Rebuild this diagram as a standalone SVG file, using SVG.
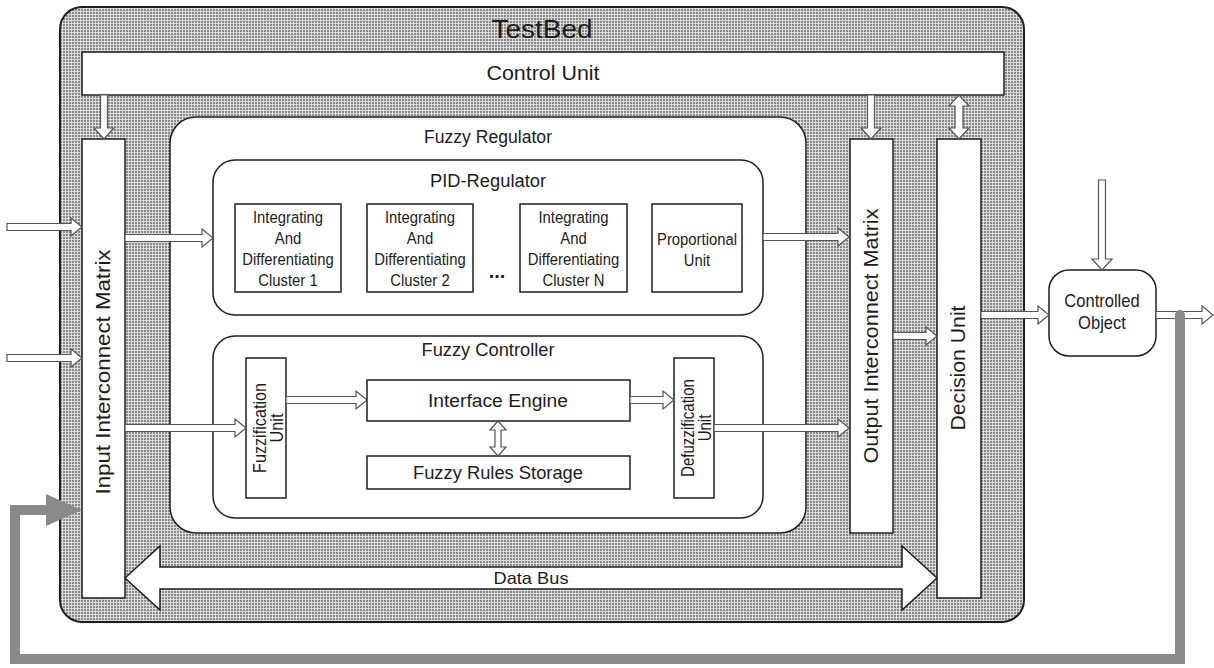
<svg xmlns="http://www.w3.org/2000/svg" width="1214" height="668" viewBox="0 0 1214 668">
<style>
.box{fill:#fff;stroke:#1e1e1e;stroke-width:1.5}
.t{font-family:"Liberation Sans",Arial,sans-serif;fill:#1c1c1c;text-anchor:middle}
.ar{fill:#fff;stroke:#555;stroke-width:1.2;stroke-linejoin:miter}
</style>
<defs>
<pattern id="hatch" width="3" height="3" patternUnits="userSpaceOnUse">
<rect width="3" height="3" fill="#dcdcdc"/>
<rect width="2" height="2" fill="#888"/>
</pattern>
</defs>
<rect width="1214" height="668" fill="#fff"/>

<g id="testbed">
<rect x="60" y="7" width="964" height="615" rx="22" fill="url(#hatch)" stroke="#1e1e1e" stroke-width="2"/>
<text class="t" x="542" y="38" font-size="26" textLength="101" lengthAdjust="spacingAndGlyphs">TestBed</text>
</g>
<g id="control-unit">
<rect class="box" x="82" y="52" width="922" height="43"/>
<text class="t" x="543" y="80" font-size="19.5" textLength="113" lengthAdjust="spacingAndGlyphs">Control Unit</text>
</g>
<g id="input-matrix">
<rect class="box" x="82" y="139" width="43" height="459"/>
<text class="t" transform="translate(110,372) rotate(-90)" font-size="20" textLength="245" lengthAdjust="spacingAndGlyphs">Input Interconnect Matrix</text>
</g>
<g id="fuzzy-regulator">
<rect class="box" x="170" y="117" width="636" height="416" rx="26"/>
<text class="t" x="488" y="143" font-size="17.5" textLength="128" lengthAdjust="spacingAndGlyphs">Fuzzy Regulator</text>
</g>
<g id="pid-regulator">
<rect class="box" x="213" y="160" width="550" height="155" rx="22"/>
<text class="t" x="488" y="187" font-size="18" textLength="116" lengthAdjust="spacingAndGlyphs">PID-Regulator</text>
</g>
<g id="cluster-1">
<rect class="box" x="235" y="204" width="106" height="88"/>
<text class="t" font-size="16.5" transform="translate(288,0) scale(0.9,1)"><tspan x="0" y="223">Integrating</tspan><tspan x="0" y="244">And</tspan><tspan x="0" y="265">Differentiating</tspan><tspan x="0" y="286">Cluster 1</tspan></text>
</g>
<g id="cluster-2">
<rect class="box" x="367" y="204" width="106" height="88"/>
<text class="t" font-size="16.5" transform="translate(420,0) scale(0.9,1)"><tspan x="0" y="223">Integrating</tspan><tspan x="0" y="244">And</tspan><tspan x="0" y="265">Differentiating</tspan><tspan x="0" y="286">Cluster 2</tspan></text>
</g>
<g id="ellipsis">
<text class="t" x="497" y="278" font-size="20" font-weight="bold">...</text>
</g>
<g id="cluster-n">
<rect class="box" x="520" y="204" width="107" height="88"/>
<text class="t" font-size="16.5" transform="translate(573.5,0) scale(0.9,1)"><tspan x="0" y="223">Integrating</tspan><tspan x="0" y="244">And</tspan><tspan x="0" y="265">Differentiating</tspan><tspan x="0" y="286">Cluster N</tspan></text>
</g>
<g id="proportional-unit">
<rect class="box" x="652" y="204" width="90" height="88"/>
<text class="t" font-size="16.5" transform="translate(697,0) scale(0.9,1)"><tspan x="0" y="245">Proportional</tspan><tspan x="0" y="266">Unit</tspan></text>
</g>
<g id="fuzzy-controller">
<rect class="box" x="213" y="336" width="550" height="182" rx="22"/>
<text class="t" x="488" y="356" font-size="18" textLength="133" lengthAdjust="spacingAndGlyphs">Fuzzy Controller</text>
</g>
<g id="fuzzification-unit">
<rect class="box" x="246" y="358" width="40" height="140"/>
<text class="t" font-size="18" transform="translate(0,428) rotate(-90) scale(0.9,1)"><tspan x="0" y="266">Fuzzification</tspan><tspan x="0" y="283.5">Unit</tspan></text>
</g>
<g id="interface-engine">
<rect class="box" x="367" y="380" width="263" height="41"/>
<text class="t" x="498" y="407" font-size="18" textLength="140" lengthAdjust="spacingAndGlyphs">Interface Engine</text>
</g>
<g id="fuzzy-rules-storage">
<rect class="box" x="367" y="456" width="263" height="33"/>
<text class="t" x="498" y="479" font-size="18" textLength="170" lengthAdjust="spacingAndGlyphs">Fuzzy Rules Storage</text>
</g>
<g id="defuzzification-unit">
<rect class="box" x="674" y="358" width="40" height="140"/>
<text class="t" font-size="17.5" transform="translate(0,428) rotate(-90) scale(0.86,1)"><tspan x="0" y="694">Defuzzification</tspan><tspan x="0" y="711">Unit</tspan></text>
</g>
<g id="output-matrix">
<rect class="box" x="850" y="139" width="43" height="394"/>
<text class="t" transform="translate(878,336) rotate(-90)" font-size="20" textLength="255" lengthAdjust="spacingAndGlyphs">Output Interconnect Matrix</text>
</g>
<g id="decision-unit">
<rect class="box" x="937" y="139" width="44" height="459"/>
<text class="t" transform="translate(965,368) rotate(-90)" font-size="20" textLength="125" lengthAdjust="spacingAndGlyphs">Decision Unit</text>
</g>
<g id="controlled-object">
<rect class="box" x="1049" y="270" width="107" height="86" rx="20"/>
<text class="t" font-size="18" transform="translate(1102,0) scale(0.92,1)"><tspan x="0" y="307">Controlled</tspan><tspan x="0" y="329">Object</tspan></text>
</g>

<g id="connectors">
<path class="ar" d="M7,223.5 H71 V218 L82,227 L71,236 V230.5 H7 Z"/>
<path class="ar" d="M7,354.5 H71 V349 L82,358 L71,367 V361.5 H7 Z"/>
<path class="ar" d="M125,234.5 H202 V229 L213,238 L202,247 V241.5 H125 Z"/>
<path class="ar" d="M125,424.5 H235 V419 L246,428 L235,437 V431.5 H125 Z"/>
<path class="ar" d="M763,233.5 H838 V228 L849,237 L838,246 V240.5 H763 Z"/>
<path class="ar" d="M286,396.5 H356 V391 L367,400 L356,409 V403.5 H286 Z"/>
<path class="ar" d="M630,396.5 H663 V391 L674,400 L663,409 V403.5 H630 Z"/>
<path class="ar" d="M714,424.5 H838 V419 L849,428 L838,437 V431.5 H714 Z"/>
<path class="ar" d="M893,332.5 H926 V327 L937,336 L926,345 V339.5 H893 Z"/>
<path class="ar" d="M981,311.5 H1038 V306 L1049,315 L1038,324 V318.5 H981 Z"/>
<path class="ar" d="M1156,311.5 H1202 V306 L1213,315 L1202,324 V318.5 H1156 Z"/>
<path class="ar" d="M100.5,95 V128 H94 L104,139 L114,128 H107.5 V95 Z"/>
<path class="ar" d="M867.5,95 V128 H861 L871,139 L881,128 H874.5 V95 Z"/>
<path class="ar" d="M1098.5,180 V259 H1092 L1102,270 L1112,259 H1105.5 V180 Z"/>
<path class="ar" d="M959,95 L969,106 H963 V128 H969 L959,139 L949,128 H955 V106 H949 Z"/>
<path class="ar" d="M498,421 L506,430 H501 V447 H506 L498,456 L490,447 H495 V430 H490 Z"/>
<g id="data-bus">
<path d="M125,578 L160,546 V567 H902 V546 L937,578 L902,610 V589 H160 V610 Z" fill="#fff" stroke="#1e1e1e" stroke-width="1.5" stroke-linejoin="miter"/>
<text class="t" x="531" y="584" font-size="16.5" textLength="75" lengthAdjust="spacingAndGlyphs">Data Bus</text>
</g>
<path d="M1180,315 V659 H15 V510 H52" fill="none" stroke="#8a8a8a" stroke-width="10" stroke-linecap="round" stroke-linejoin="miter"/>
<polygon points="46,494 82,510 46,526" fill="#8a8a8a"/>
</g>
</svg>
